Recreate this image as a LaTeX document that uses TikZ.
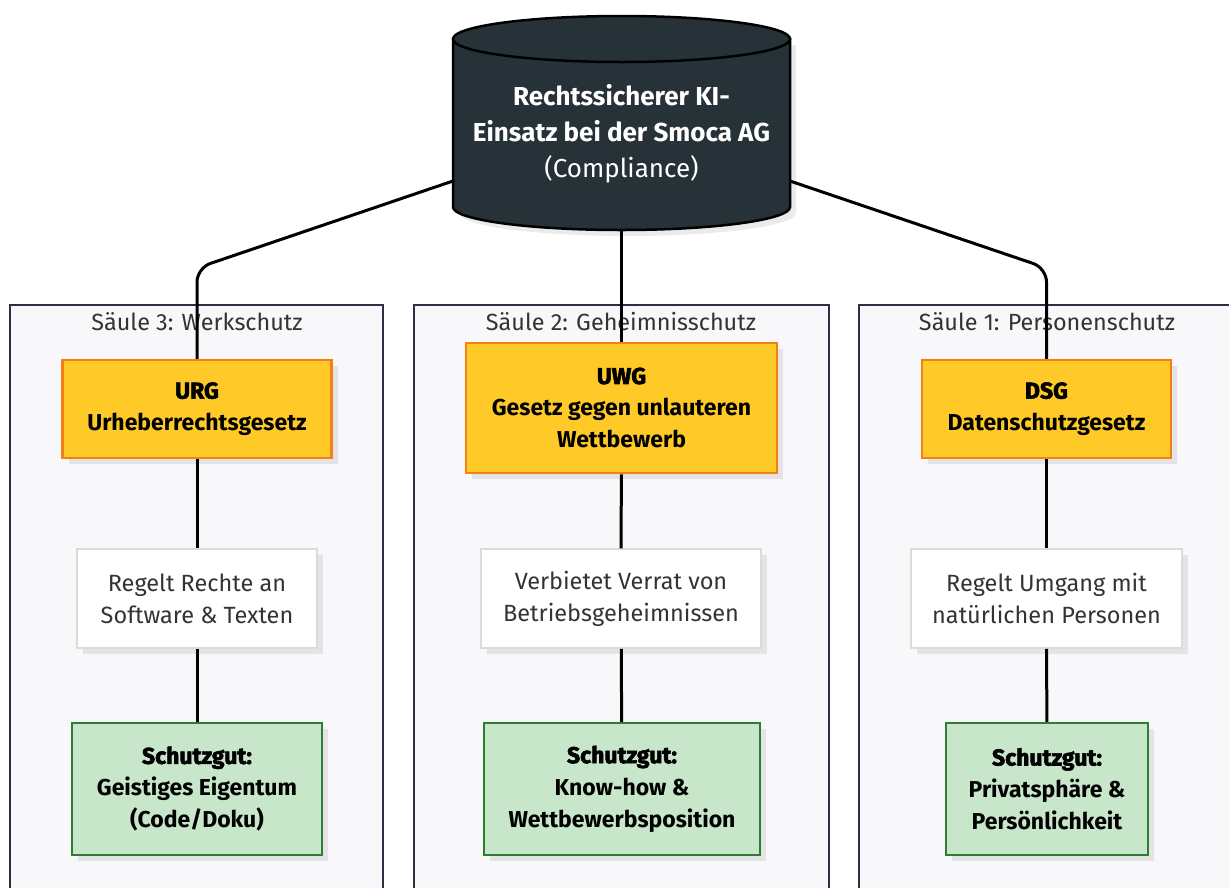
\documentclass[tikz,border=0pt]{standalone}
\usepackage{fontspec}
\setmainfont{Fira Sans}
\newfontfamily\heavy{Fira Sans}[BoldFeatures={FakeBold=2.5}]
\usetikzlibrary{positioning,shadows}

\definecolor{dbfill}{HTML}{263238}
\definecolor{lawfill}{HTML}{FFCA28}
\definecolor{lawline}{HTML}{F57F17}
\definecolor{goodfill}{HTML}{C8E6C9}
\definecolor{goodline}{HTML}{2E7D32}
\definecolor{pillarfill}{HTML}{F8F8FA}
\definecolor{pillarline}{HTML}{2E2E45}
\definecolor{txt}{HTML}{333333}

\tikzset{
    pillar/.style={draw=pillarline, fill=pillarfill, line width=2.5pt},
    pillartitle/.style={text=txt, font=\fontsize{23.4}{26}\selectfont},
    boxshadow/.style={drop shadow={shadow xshift=6pt, shadow yshift=-6pt, fill=black, opacity=0.08}},
    law/.style={draw=lawline, fill=lawfill, line width=2.5pt, align=center,
        minimum height=98pt, boxshadow, font=\fontsize{23}{32}\selectfont\bfseries},
    rulebox/.style={draw=black!14, fill=white, line width=1.5pt, text=txt, align=center,
        minimum height=99pt, boxshadow, font=\fontsize{23.5}{32}\selectfont},
    good/.style={draw=goodline, fill=goodfill, line width=2.5pt, align=center,
        minimum height=132pt, boxshadow, font=\fontsize{23}{32}\selectfont\bfseries},
    link/.style={line width=3pt, black},
}

\begin{document}
\begin{tikzpicture}[x=1pt, y=1pt] % Compliance-Saeulen der Smoca AG
    \useasboundingbox (0,0) rectangle (1229,-887);
    \begin{scope}
        \clip (0,0) rectangle (1229,-887);
        \draw[pillar] (10,-305) rectangle (383,-900);
        \draw[pillar] (414,-305) rectangle (829,-900);
        \draw[pillar] (859,-305) rectangle (1240,-900);
    \end{scope}
    \node[pillartitle] (t3) at (197,-322) {Säule 3: Werkschutz};
    \node[pillartitle] (t2) at (621,-322) {Säule 2: Geheimnisschutz};
    \node[pillartitle] (t1) at (1047,-322) {Säule 1: Personenschutz};

    % Datenbank oben
    \fill[black, opacity=0.08] (459,-45) -- (459,-213) arc[start angle=180, end angle=360, x radius=168.5, y radius=23] -- (796,-45) -- cycle;
    \draw[line width=2.5pt, fill=dbfill] (453,-39) -- (453,-207) arc[start angle=180, end angle=360, x radius=168.5, y radius=23] -- (790,-39) -- cycle;
    \draw[line width=2.5pt, fill=dbfill] (621.5,-39) ellipse [x radius=168.5, y radius=23];
    \node[text=white, align=center, font=\fontsize{26}{36}\selectfont] (db) at (621.5,-134)
        {\bfseries Rechtssicherer KI-\\\bfseries Einsatz bei der Smoca AG\\(Compliance)};
    \coordinate (dbl) at (453,-181);
    \coordinate (dbr) at (790,-181);
    \coordinate (dbb) at (621.5,-230);

    \node[law, minimum width=269pt] (urg) at (197,-409) {{\heavy\bfseries URG}\\Urheberrechtsgesetz};
    \node[law, minimum width=311pt, minimum height=130pt] (uwg) at (621.5,-408) {{\heavy\bfseries UWG}\\Gesetz gegen unlauteren\\Wettbewerb};
    \node[law, minimum width=249pt] (dsg) at (1046.5,-409) {{\heavy\bfseries DSG}\\Datenschutzgesetz};

    \node[rulebox, minimum width=240pt] (rurg) at (197,-598.5) {Regelt Rechte an\\Software \& Texten};
    \node[rulebox, minimum width=280pt] (ruwg) at (621,-598.5) {Verbietet Verrat von\\Betriebsgeheimnissen};
    \node[rulebox, minimum width=271pt] (rdsg) at (1046.5,-598.5) {Regelt Umgang mit\\natürlichen Personen};

    \node[good, minimum width=250pt] (gurg) at (197,-789) {{\heavy Schutzgut:}\\Geistiges Eigentum\\(Code/Doku)};
    \node[good, minimum width=276pt] (guwg) at (622,-789) {{\heavy Schutzgut:}\\Know-how \&\\Wettbewerbsposition};
    \node[good, minimum width=202pt] (gdsg) at (1047,-789) {{\heavy Schutzgut:}\\Privatsphäre \&\\Persönlichkeit};

    \draw[link, rounded corners=14pt] (dbl) -- (urg.north |- 0,-268) -- (urg.north);
    \draw[link] (dbb) -- (uwg.north);
    \draw[link, rounded corners=14pt] (dbr) -- (dsg.north |- 0,-268) -- (dsg.north);
    \foreach \a/\b/\c in {urg/rurg/gurg, uwg/ruwg/guwg, dsg/rdsg/gdsg} {
        \draw[link] (\a) -- (\b);
        \draw[link] (\b) -- (\c);
    }
\end{tikzpicture}
\end{document}
